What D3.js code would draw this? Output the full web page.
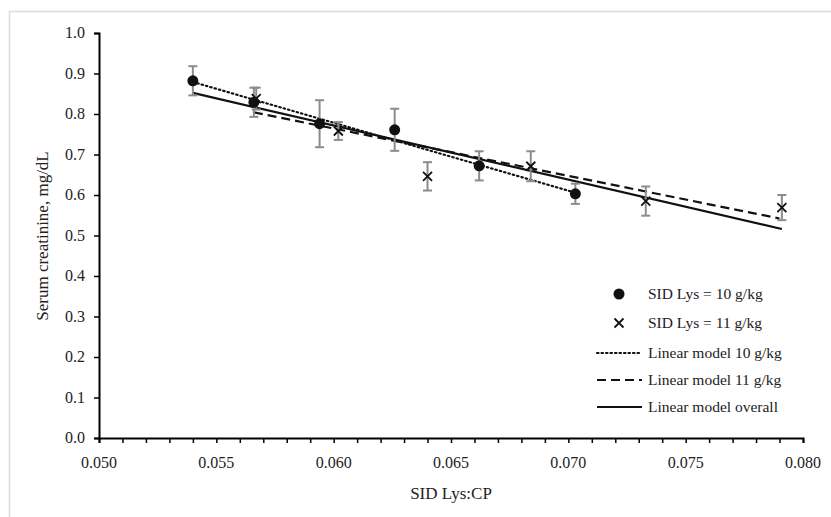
<!DOCTYPE html>
<html><head><meta charset="utf-8">
<script src="https://cdn.jsdelivr.net/npm/d3@7"></script>
<style>body{margin:0;background:#fff;}svg text{font-family:'Liberation Serif','DejaVu Serif',serif;}</style>
</head><body>
<svg id="c" width="831" height="517"></svg>
<script>
// ---- data ----
const lys10X   = [0.0540, 0.0566, 0.0594, 0.0626, 0.0662, 0.0703];
const lys10Y   = [0.882, 0.829, 0.776, 0.761, 0.672, 0.603];
const lys10Err = [0.036, 0.036, 0.058, 0.052, 0.036, 0.025];
const lys11X   = [0.0567, 0.0602, 0.0640, 0.0684, 0.0733, 0.0791];
const lys11Y   = [0.838, 0.758, 0.646, 0.671, 0.585, 0.569];
const lys11Err = [0.027, 0.022, 0.035, 0.037, 0.036, 0.031];
const modelNames = ["Linear model 10 g/kg", "Linear model 11 g/kg", "Linear model overall"];
const modelX0 = [0.0540, 0.0566, 0.0540];
const modelX1 = [0.0704, 0.0790, 0.0791];
const modelY0 = [0.879, 0.804, 0.852];
const modelY1 = [0.604, 0.542, 0.516];
const xTicks = [0.050, 0.055, 0.060, 0.065, 0.070, 0.075, 0.080];
const yTicks = [0.0, 0.1, 0.2, 0.3, 0.4, 0.5, 0.6, 0.7, 0.8, 0.9, 1.0];
const legendLabels = ["SID Lys = 10 g/kg", "SID Lys = 11 g/kg"];

const FONT = "'Liberation Serif','DejaVu Serif',serif";
const svg = d3.select("#c");
svg.append("rect").attr("x",9.5).attr("y",11.5).attr("width",900).attr("height",600)
  .attr("fill","none").attr("stroke","#dcdcdc").attr("stroke-width",1.5);

const x = d3.scaleLinear().domain([0.050,0.080]).range([99,803]);
const y = d3.scaleLinear().domain([0,1]).range([438,33]);

// axes
const xAxis = d3.axisBottom(x).tickValues(d3.range(0,31).map(i=>0.050+i*0.001)).tickSize(5).tickFormat("");
const gx = svg.append("g").attr("transform","translate(0,438)").call(xAxis);
gx.select(".domain").attr("stroke","#000").attr("stroke-width",2);
gx.selectAll(".tick line").attr("stroke","#000").attr("stroke-width",1.5);
svg.append("g").selectAll("text").data(xTicks).join("text")
  .attr("x",d=>x(d)).attr("y",468).attr("text-anchor","middle").style("font-family",FONT)
  .attr("font-size",16).attr("fill","#222").text(d=>d3.format(".3f")(d));

const yAxis = d3.axisLeft(y).tickValues(yTicks).tickSize(5).tickFormat("");
const gy = svg.append("g").attr("transform","translate(99,0)").call(yAxis);
gy.select(".domain").attr("stroke","#000").attr("stroke-width",2);
gy.selectAll(".tick line").attr("stroke","#000").attr("stroke-width",1.5);
svg.append("g").selectAll("text").data(yTicks).join("text")
  .attr("x",85).attr("y",d=>y(d)+5).attr("text-anchor","end").style("font-family",FONT)
  .attr("font-size",16).attr("fill","#222").text(d=>d3.format(".1f")(d));

svg.append("text").attr("x",451).attr("y",499).attr("text-anchor","middle").style("font-family",FONT)
  .attr("font-size",17).attr("fill","#222").text("SID Lys:CP");
svg.append("text").attr("transform","translate(48,236) rotate(-90)").attr("text-anchor","middle").style("font-family",FONT)
  .attr("font-size",17).attr("fill","#222").text("Serum creatinine, mg/dL");

// model lines
const dashes = ["1.5,3", "9,5", null];
const models = modelNames.map((n,i)=>({n, x0:modelX0[i], x1:modelX1[i], y0:modelY0[i], y1:modelY1[i], d:dashes[i]}));
svg.append("g").selectAll("line").data(models).join("line")
  .attr("x1",d=>x(d.x0)).attr("y1",d=>y(d.y0)).attr("x2",d=>x(d.x1)).attr("y2",d=>y(d.y1))
  .attr("stroke","#111").attr("stroke-width",2.2)
  .attr("stroke-dasharray",d=>d.d).attr("stroke-linecap",(d,i)=>i===0?"round":"butt");

// error bars
const pts10 = lys10X.map((v,i)=>({x:v,y:lys10Y[i],e:lys10Err[i]}));
const pts11 = lys11X.map((v,i)=>({x:v,y:lys11Y[i],e:lys11Err[i]}));
const eb = svg.append("g").attr("stroke","#8c8c8c").attr("stroke-width",2);
[...pts10,...pts11].forEach(p=>{
  eb.append("line").attr("x1",x(p.x)).attr("x2",x(p.x)).attr("y1",y(p.y-p.e)).attr("y2",y(p.y+p.e));
  eb.append("line").attr("x1",x(p.x)-4.5).attr("x2",x(p.x)+4.5).attr("y1",y(p.y-p.e)).attr("y2",y(p.y-p.e));
  eb.append("line").attr("x1",x(p.x)-4.5).attr("x2",x(p.x)+4.5).attr("y1",y(p.y+p.e)).attr("y2",y(p.y+p.e));
});

// markers
svg.append("g").selectAll("circle").data(pts10).join("circle")
  .attr("cx",d=>x(d.x)).attr("cy",d=>y(d.y)).attr("r",5.5).attr("fill","#111");
const cross = (g,cx,cy,s)=>{
  g.append("path").attr("d",`M${cx-s},${cy-s}L${cx+s},${cy+s}M${cx-s},${cy+s}L${cx+s},${cy-s}`)
   .attr("stroke","#111").attr("stroke-width",1.8).attr("fill","none");
};
const cg = svg.append("g");
pts11.forEach(p=>cross(cg,x(p.x),y(p.y),4.5));

// legend
const lg = svg.append("g");
lg.append("circle").attr("cx",619).attr("cy",294).attr("r",5.5).attr("fill","#111");
cross(lg,619,323,4.5);
legendLabels.forEach((t,i)=>{
  lg.append("text").attr("x",648).attr("y",299+i*29).style("font-family",FONT).attr("font-size",15.5).attr("fill","#222").text(t);
});
models.forEach((m,i)=>{
  const yy = 353+i*27;
  lg.append("line").attr("x1",597).attr("x2",642).attr("y1",yy).attr("y2",yy)
    .attr("stroke","#111").attr("stroke-width",2.2).attr("stroke-dasharray",m.d)
    .attr("stroke-linecap",i===0?"round":"butt");
  lg.append("text").attr("x",648).attr("y",yy+5).style("font-family",FONT).attr("font-size",15.5).attr("fill","#222").text(m.n);
});
</script>
</body></html>
